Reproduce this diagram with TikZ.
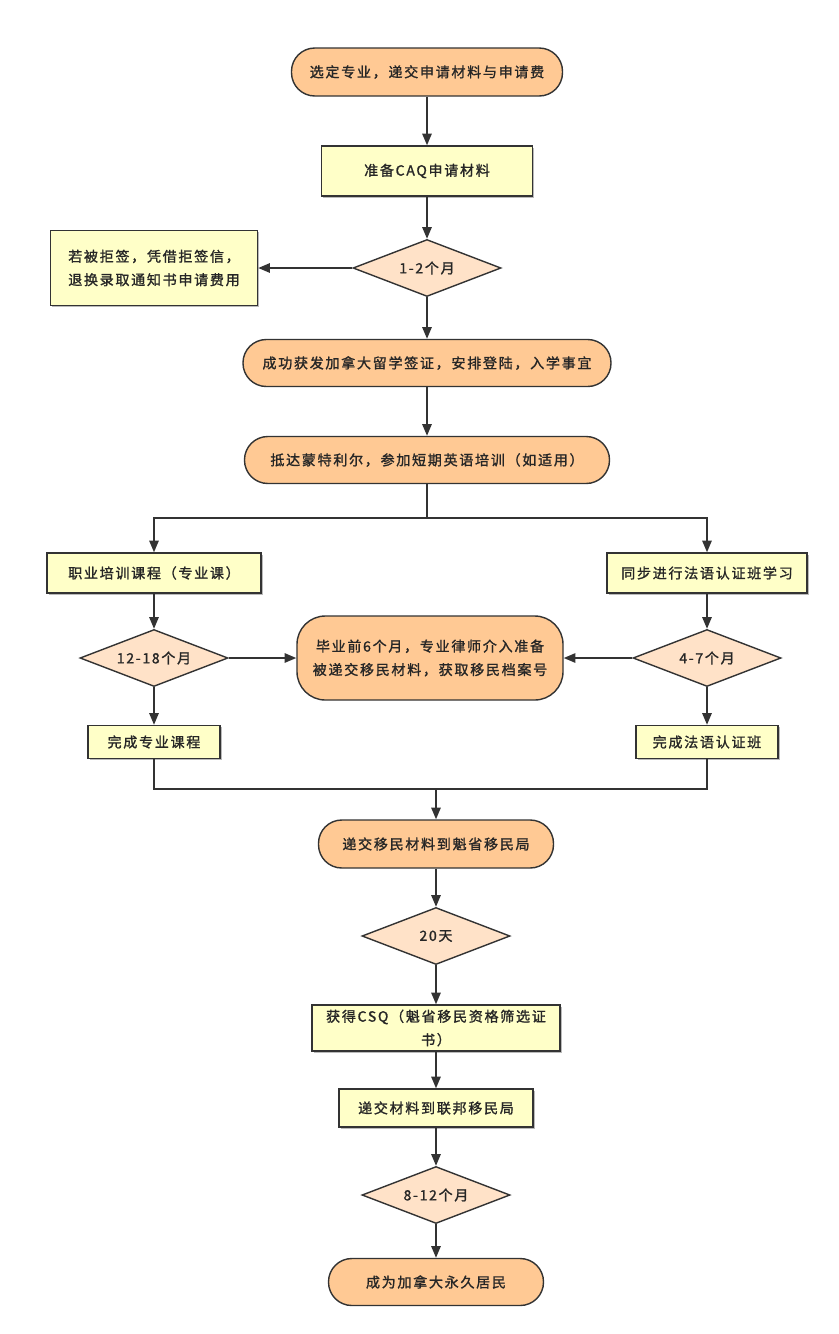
\documentclass[tikz,border=0pt]{standalone}
\usepackage{fontspec}
\setmainfont{Noto Sans CJK SC}[LetterSpace=12, FakeBold=1.3]
\usepackage{tikz}
\usetikzlibrary{shapes.geometric,arrows.meta,shadows}

\definecolor{lineC}{HTML}{333333}
\definecolor{termC}{HTML}{FFC994}
\definecolor{procC}{HTML}{FFFFC8}
\definecolor{decC}{HTML}{FFE2C8}

\begin{document}
\begin{tikzpicture}[
		x=0.03cm, y=-0.03cm
		,every node/.append style={draw=lineC, line width=1.2pt, inner sep=0pt, align=center,
			text=black!85, font=\fontsize{12}{20}\selectfont}
		,term/.style={fill=termC, rounded corners=0.7cm}
		,proc/.style={fill=procC, drop shadow={shadow xshift=0.05cm, shadow yshift=-0.05cm, fill=black!45, opacity=0.6}}
		,dec/.style={diamond, aspect=2.6, fill=decC, minimum width=4.44cm, minimum height=1.71cm,
			font=\fontsize{12}{14}\selectfont}
		,link/.style={draw=lineC, line width=1.5pt}
		,arr/.style={link, -{Triangle[length=10pt, width=8pt]}}
	]
		\useasboundingbox (0,0) rectangle (839,1334);

		% main line
		\node [term, minimum width=8.13cm, minimum height=1.44cm] (apply) at (427,72) {选定专业，递交申请材料与申请费};
		\node [proc, minimum width=6.33cm, minimum height=1.5cm] (caq) at (427,171) {准备CAQ申请材料};
		\node [dec] (wait1) at (427,268) {1-2个月};
		\node [proc, minimum width=6.21cm, minimum height=2.25cm] (refuse) at (154,268) {若被拒签，凭借拒签信，\\退换录取通知书申请费用};
		\node [term, minimum width=11.04cm, minimum height=1.41cm] (visa) at (427,363) {成功获发加拿大留学签证，安排登陆，入学事宜};
		\node [term, minimum width=10.95cm, minimum height=1.41cm] (arrive) at (427,460) {抵达蒙特利尔，参加短期英语培训（如适用）};

		% two branches
		\coordinate (split) at (427,518);
		\node [proc, minimum width=6.42cm, minimum height=1.2cm] (course) at (154,573) {职业培训课程（专业课）};
		\node [proc, minimum width=6cm, minimum height=1.2cm] (french) at (707,573) {同步进行法语认证班学习};
		\node [dec] (wait2) at (154,658) {12-18个月};
		\node [dec] (wait3) at (707,658) {4-7个月};
		\node [term, rounded corners=0.85cm, minimum width=7.98cm, minimum height=2.52cm] (lawyer) at (430,658) {毕业前6个月，专业律师介入准备\\被递交移民材料，获取移民档案号};
		\node [proc, minimum width=3.96cm, minimum height=0.99cm] (done1) at (154,742) {完成专业课程};
		\node [proc, minimum width=4.26cm, minimum height=0.99cm] (done2) at (707,742) {完成法语认证班};
		\coordinate (merge) at (436,789);

		% immigration
		\node [term, minimum width=7.05cm, minimum height=1.44cm] (quebec) at (436,844) {递交移民材料到魁省移民局};
		\node [dec] (wait4) at (436,936) {20天};
		\node [proc, minimum width=7.44cm, minimum height=1.38cm] (csq) at (436,1028) {获得CSQ（魁省移民资格筛选证\\书）};
		\node [proc, minimum width=5.82cm, minimum height=1.14cm] (federal) at (436,1108) {递交材料到联邦移民局};
		\node [dec] (wait5) at (436,1195) {8-12个月};
		\node [term, minimum width=6.45cm, minimum height=1.41cm] (pr) at (436,1282) {成为加拿大永久居民};

		\draw [arr] (apply) -- (caq);
		\draw [arr] (caq) -- (wait1);
		\draw [arr] (wait1) -- (refuse);
		\draw [arr] (wait1) -- (visa);
		\draw [arr] (visa) -- (arrive);
		\draw [link] (arrive) -- (split);
		\draw [arr] (split) -| (course);
		\draw [arr] (split) -| (french);
		\draw [arr] (course) -- (wait2);
		\draw [arr] (french) -- (wait3);
		\draw [arr] (wait2) -- (lawyer);
		\draw [arr] (wait3) -- (lawyer);
		\draw [arr] (wait2) -- (done1);
		\draw [arr] (wait3) -- (done2);
		\draw [link] (done1) |- (merge);
		\draw [link] (done2) |- (merge);
		\draw [arr] (merge) -- (quebec);
		\draw [arr] (quebec) -- (wait4);
		\draw [arr] (wait4) -- (csq);
		\draw [arr] (csq) -- (federal);
		\draw [arr] (federal) -- (wait5);
		\draw [arr] (wait5) -- (pr);
	\end{tikzpicture}
\end{document}
